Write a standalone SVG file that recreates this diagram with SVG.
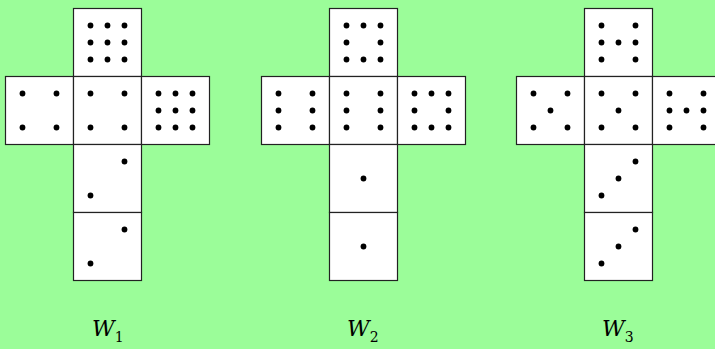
<svg xmlns="http://www.w3.org/2000/svg" xmlns:xlink="http://www.w3.org/1999/xlink" width="715" height="349" viewBox="0 0 715 349">
<style>
.face{fill:#ffffff;stroke:#222222;stroke-width:1.2}
.dots circle{fill:#000000}
.lbl{font-family:"DejaVu Serif","Liberation Serif",serif;font-style:italic;font-size:22px;fill:#000}
.sub{font-style:normal;font-size:14px}
</style>
<defs>
<g id="f1" class="dots"><circle cx="34" cy="34" r="2.9"/></g>
<g id="f2" class="dots"><circle cx="51" cy="17" r="2.9"/><circle cx="17" cy="51" r="2.9"/></g>
<g id="f3" class="dots"><circle cx="51" cy="17" r="2.9"/><circle cx="34" cy="34" r="2.9"/><circle cx="17" cy="51" r="2.9"/></g>
<g id="f4" class="dots"><circle cx="17" cy="17" r="2.9"/><circle cx="51" cy="17" r="2.9"/><circle cx="17" cy="51" r="2.9"/><circle cx="51" cy="51" r="2.9"/></g>
<g id="f5" class="dots"><circle cx="17" cy="17" r="2.9"/><circle cx="51" cy="17" r="2.9"/><circle cx="34" cy="34" r="2.9"/><circle cx="17" cy="51" r="2.9"/><circle cx="51" cy="51" r="2.9"/></g>
<g id="f6" class="dots"><circle cx="17" cy="17" r="2.9"/><circle cx="51" cy="17" r="2.9"/><circle cx="17" cy="34" r="2.9"/><circle cx="51" cy="34" r="2.9"/><circle cx="17" cy="51" r="2.9"/><circle cx="51" cy="51" r="2.9"/></g>
<g id="f7" class="dots"><circle cx="17" cy="17" r="2.9"/><circle cx="51" cy="17" r="2.9"/><circle cx="17" cy="34" r="2.9"/><circle cx="34" cy="34" r="2.9"/><circle cx="51" cy="34" r="2.9"/><circle cx="17" cy="51" r="2.9"/><circle cx="51" cy="51" r="2.9"/></g>
<g id="f8" class="dots"><circle cx="17" cy="17" r="2.9"/><circle cx="34" cy="17" r="2.9"/><circle cx="51" cy="17" r="2.9"/><circle cx="17" cy="34" r="2.9"/><circle cx="51" cy="34" r="2.9"/><circle cx="17" cy="51" r="2.9"/><circle cx="34" cy="51" r="2.9"/><circle cx="51" cy="51" r="2.9"/></g>
<g id="f9" class="dots"><circle cx="17" cy="17" r="2.9"/><circle cx="34" cy="17" r="2.9"/><circle cx="51" cy="17" r="2.9"/><circle cx="17" cy="34" r="2.9"/><circle cx="34" cy="34" r="2.9"/><circle cx="51" cy="34" r="2.9"/><circle cx="17" cy="51" r="2.9"/><circle cx="34" cy="51" r="2.9"/><circle cx="51" cy="51" r="2.9"/></g>
<rect id="sq" class="face" width="68" height="68"/>
</defs>
<rect width="715" height="349" fill="#9bfd99"/>

<g id="W1">
<g id="W1-top" transform="translate(73.5,8.5)"><use href="#sq"/><use href="#f9"/></g>
<g id="W1-left" transform="translate(5.5,76.5)"><use href="#sq"/><use href="#f4"/></g>
<g id="W1-center" transform="translate(73.5,76.5)"><use href="#sq"/><use href="#f4"/></g>
<g id="W1-right" transform="translate(141.5,76.5)"><use href="#sq"/><use href="#f9"/></g>
<g id="W1-bottom1" transform="translate(73.5,144.5)"><use href="#sq"/><use href="#f2"/></g>
<g id="W1-bottom2" transform="translate(73.5,212.5)"><use href="#sq"/><use href="#f2"/></g>
<text class="lbl" x="92" y="336">W<tspan class="sub" dy="6">1</tspan></text>
</g>

<g id="W2">
<g id="W2-top" transform="translate(329.5,8.5)"><use href="#sq"/><use href="#f8"/></g>
<g id="W2-left" transform="translate(261.5,76.5)"><use href="#sq"/><use href="#f6"/></g>
<g id="W2-center" transform="translate(329.5,76.5)"><use href="#sq"/><use href="#f6"/></g>
<g id="W2-right" transform="translate(397.5,76.5)"><use href="#sq"/><use href="#f8"/></g>
<g id="W2-bottom1" transform="translate(329.5,144.5)"><use href="#sq"/><use href="#f1"/></g>
<g id="W2-bottom2" transform="translate(329.5,212.5)"><use href="#sq"/><use href="#f1"/></g>
<text class="lbl" x="347" y="336">W<tspan class="sub" dy="6">2</tspan></text>
</g>

<g id="W3">
<g id="W3-top" transform="translate(584.5,8.5)"><use href="#sq"/><use href="#f7"/></g>
<g id="W3-left" transform="translate(516.5,76.5)"><use href="#sq"/><use href="#f5"/></g>
<g id="W3-center" transform="translate(584.5,76.5)"><use href="#sq"/><use href="#f5"/></g>
<g id="W3-right" transform="translate(652.5,76.5)"><use href="#sq"/><use href="#f7"/></g>
<g id="W3-bottom1" transform="translate(584.5,144.5)"><use href="#sq"/><use href="#f3"/></g>
<g id="W3-bottom2" transform="translate(584.5,212.5)"><use href="#sq"/><use href="#f3"/></g>
<text class="lbl" x="602" y="336">W<tspan class="sub" dy="6">3</tspan></text>
</g>
<g id="connectors"/>
</svg>
